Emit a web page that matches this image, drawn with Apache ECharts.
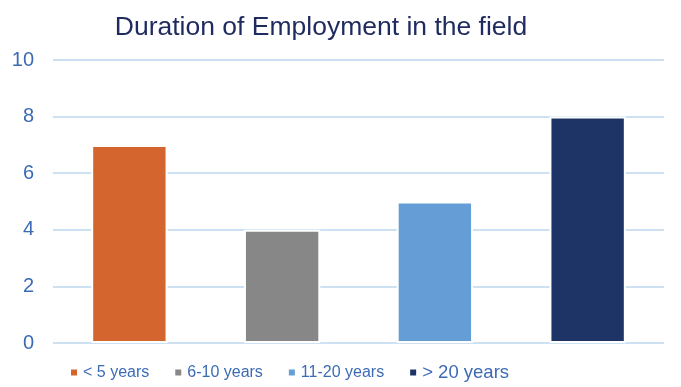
<!DOCTYPE html>
<html><head><meta charset="utf-8">
<script src="https://cdn.jsdelivr.net/npm/echarts@6/dist/echarts.min.js"></script>
<style>html,body{margin:0;padding:0;background:#fff}#c{width:681px;height:387px}</style>
</head><body><div id="c"></div>
<script>
var categories = ['< 5 years', '6-10 years', '11-20 years', '> 20 years'];
var values = [7, 4, 5, 8];
var colors = ['#D4652F', '#878787', '#659ED6', '#1F3466'];
var yTicks = [0, 2, 4, 6, 8, 10];

var chart = echarts.init(document.getElementById('c'));
var series = categories.map(function (name, i) {
  var d = categories.map(function (_, j) { return j === i ? values[i] : '-'; });
  return {
    name: name, type: 'bar', stack: 'all', data: d, barWidth: '50%',
    itemStyle: { color: colors[i], borderColor: '#fff', borderWidth: 2 }
  };
});
chart.setOption({
  animation: false,
  title: {
    text: 'Duration of Employment in the field', left: 316, top: 9, textAlign: 'center',
    textStyle: { color: '#1F2A5E', fontSize: 26.5, fontWeight: 'normal', fontFamily: 'Liberation Sans, Arial' }
  },
  legend: {
    bottom: 0, left: 64, itemWidth: 8, itemHeight: 8, itemGap: 24, icon: 'rect',
    data: categories.map(function (n, i) {
      return { name: n, textStyle: { fontSize: i === 3 ? 18.5 : 16 } };
    }),
    textStyle: { color: '#3B6BB5', fontSize: 16, fontFamily: 'Liberation Sans, Arial' }
  },
  grid: { left: 53, right: 17, top: 60, bottom: 44 },
  xAxis: {
    type: 'category', data: categories,
    axisLine: { show: false }, axisTick: { show: false }, axisLabel: { show: false }
  },
  yAxis: {
    type: 'value', min: yTicks[0], max: yTicks[yTicks.length - 1], interval: 2,
    axisLine: { show: false }, axisTick: { show: false },
    axisLabel: { color: '#3B6BB5', fontSize: 20, margin: 19, fontFamily: 'Liberation Sans, Arial' },
    splitLine: { lineStyle: { color: '#BDD7EE', width: 1.5 } }
  },
  series: series
});
</script></body></html>
